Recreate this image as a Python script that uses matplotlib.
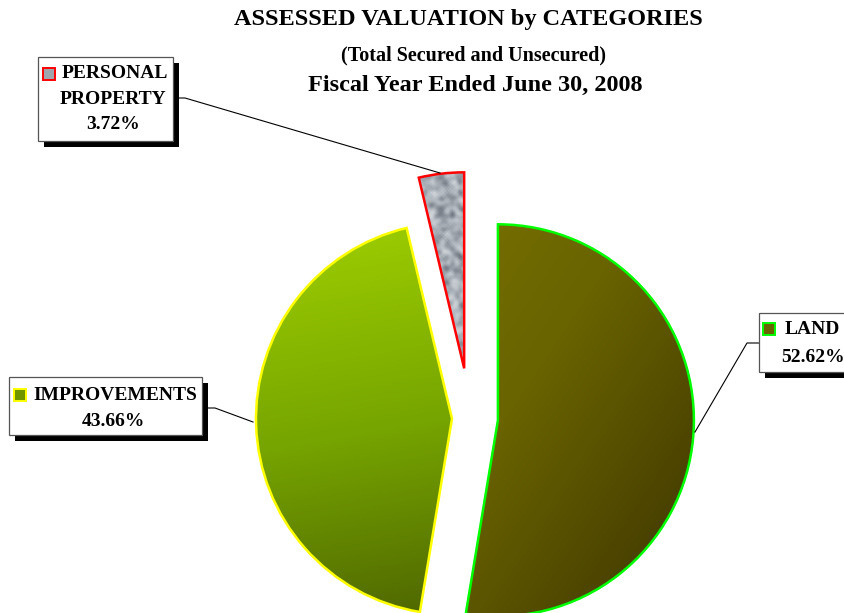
import numpy as np
import matplotlib
matplotlib.use("Agg")
import matplotlib.pyplot as plt
from matplotlib.colors import LinearSegmentedColormap
from matplotlib.patches import Rectangle

# Data
categories = ["LAND", "IMPROVEMENTS", "PERSONAL\nPROPERTY"]
shares = [52.62, 43.66, 3.72]
pct_labels = ["52.62%", "43.66%", "3.72%"]

title = "ASSESSED VALUATION by CATEGORIES"
subtitle = "(Total Secured and Unsecured)"
year_line = "Fiscal Year Ended June 30, 2008"

W, H = 845, 613
FONT = "Liberation Serif"


def Y(v):
    # pixel row -> data y
    return H - v


fig = plt.figure(figsize=(W / 100, H / 100), dpi=100)
ax = fig.add_axes([0, 0, 1, 1])

edge_cols = ["#00ff00", "#ffff00", "#ff0000"]
wedges, _ = ax.pie(shares, explode=[28, 18, 50], startangle=90, counterclock=False,
                   center=(470, Y(418)), radius=196,
                   wedgeprops=dict(linewidth=1.8))
ax.set_xlim(0, W)
ax.set_ylim(0, H)
ax.set_aspect("equal")
ax.axis("off")

# gradient / texture fills clipped to the wedges
n = 256
yy, xx = np.mgrid[0:1:n * 1j, 0:1:n * 1j]
land_cmap = LinearSegmentedColormap.from_list("land", ["#7e7800", "#6a6400", "#3d3400"])
impr_cmap = LinearSegmentedColormap.from_list("impr", ["#9fd000", "#76a400", "#485c00"])
gray_cmap = LinearSegmentedColormap.from_list("tex", ["#59606a", "#a9b0b8", "#eef1f4"])

rng = np.random.default_rng(7)
tex = rng.random((220, 220))
for _ in range(3):
    tex = (tex + np.roll(tex, 1, 0) + np.roll(tex, -1, 0) + np.roll(tex, 1, 1) + np.roll(tex, -1, 1)) / 5
tex = (tex - tex.min()) / (tex.max() - tex.min())

fills = [((xx * 0.6 + yy * 0.4), land_cmap), (yy * 0.85 + xx * 0.15, impr_cmap), (tex, gray_cmap)]
for w, ec, (arr, cmap) in zip(wedges, edge_cols, fills):
    cx, cy = w.center
    r = w.r
    im = ax.imshow(arr, cmap=cmap, extent=(cx - r, cx + r, cy - r, cy + r), origin="upper",
                   interpolation="bilinear", zorder=1)
    im.set_clip_path(w)
    w.set_facecolor("none")
    w.set_edgecolor(ec)
    w.set_zorder(2)
ax.set_xlim(0, W)
ax.set_ylim(0, H)

# titles
ax.text(468, Y(20), title, ha="center", va="center", fontsize=17.5, fontweight="bold", family=FONT)
ax.text(474, Y(55), subtitle, ha="center", va="center", fontsize=14.5, fontweight="bold", family=FONT)
ax.text(475, Y(85), year_line, ha="center", va="center", fontsize=17.5, fontweight="bold", family=FONT)


def label_box(x0, y0, x1, y1):
    ax.add_patch(Rectangle((x0 + 6, Y(y1 + 6)), x1 - x0, y1 - y0, facecolor="black",
                           edgecolor="none", zorder=4))
    ax.add_patch(Rectangle((x0, Y(y1)), x1 - x0, y1 - y0, facecolor="white",
                           edgecolor="#555555", lw=0.9, zorder=5))


def key(x0, y0, fc, ec):
    ax.add_patch(Rectangle((x0, Y(y0 + 12)), 12, 12, facecolor=fc, edgecolor=ec, lw=1.4, zorder=6))


txt = dict(fontsize=14, fontweight="bold", family=FONT, zorder=7, va="center")

# leader lines
ax.plot([695, 747, 759], [Y(432), Y(343), Y(343)], color="black", lw=0.8, zorder=3)
ax.plot([253, 215, 202], [Y(422), Y(408), Y(408)], color="black", lw=0.8, zorder=3)
ax.plot([440, 185, 173], [Y(173), Y(98), Y(98)], color="black", lw=0.8, zorder=3)

# LAND
label_box(759, 313, 870, 372)
key(763, 323, "#6a6400", edge_cols[0])
ax.text(785, Y(330), categories[0], ha="left", **txt)
ax.text(813, Y(358), pct_labels[0], ha="center", **txt)

# IMPROVEMENTS
label_box(9, 377, 202, 435)
key(14, 389, "#6f9400", edge_cols[1])
ax.text(33, Y(395), categories[1], ha="left", **txt)
ax.text(113, Y(422), pct_labels[1], ha="center", **txt)

# PERSONAL PROPERTY
label_box(38, 57, 173, 141)
key(43, 68, "#a0a6ad", edge_cols[2])
ax.text(62, Y(74), categories[2].split("\n")[0], ha="left", **txt)
ax.text(113, Y(99), categories[2].split("\n")[1], ha="center", **txt)
ax.text(113, Y(125), pct_labels[2], ha="center", **txt)

fig.savefig("out.png", dpi=100)
